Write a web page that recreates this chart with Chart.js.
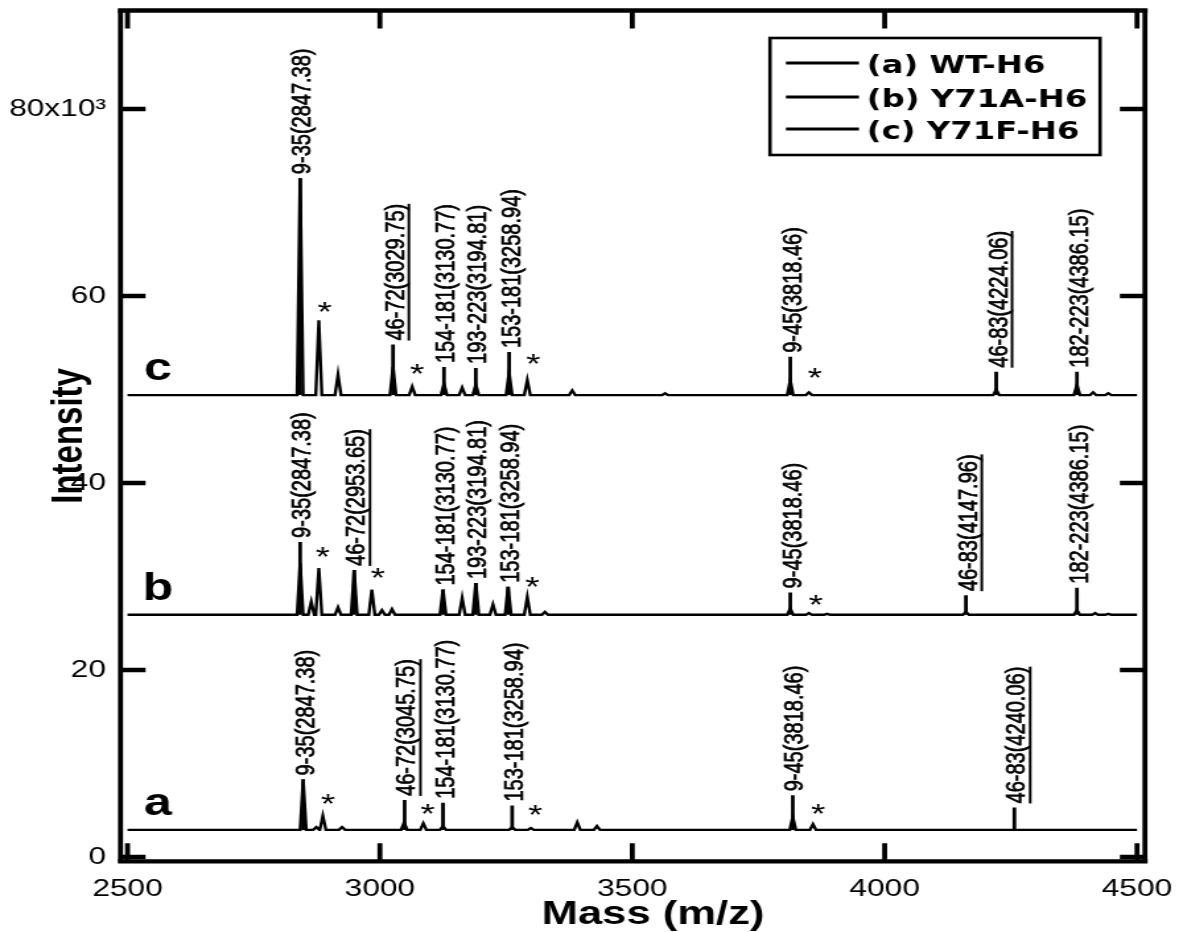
<!DOCTYPE html>
<html>
<head>
<meta charset="utf-8">
<script src="https://cdn.jsdelivr.net/npm/chart.js@4.4.1/dist/chart.umd.min.js"></script>
<style>
html,body{margin:0;padding:0;background:#fff;overflow:hidden;width:1179px;height:932px;}
#wrap{position:absolute;left:0;top:0;width:893px;height:932px;transform:scaleX(1.32027);transform-origin:0 0;}
canvas{display:block;}
</style>
</head>
<body>
<div id="wrap"><canvas id="chart" width="893" height="932" style="width:893px;height:932px"></canvas></div>
<script>
// ---------------- DATA (intensity in units of 10^3 counts) ----------------
const seriesNames = ['(a) WT-H6', '(b) Y71A-H6', '(c) Y71F-H6'];
const traceLetters = ['a', 'b', 'c'];
const baselineA = 2.9, baselineB = 25.9, baselineC = 49.4;
const massStart = 2500, massEnd = 4500;

const xTickValues = [2500, 3000, 3500, 4000, 4500];
const yTickValues = [0, 20, 40, 60, 80];
const yTickLabels = ['0', '20', '40', '60', '80x10\u00B3'];

// spectrum peaks (mass, apex intensity)
const peakMassA = [2848, 2874, 2887, 2925, 3048, 3086, 3125, 3262, 3299, 3391, 3430, 3818, 3858];
const peakIntA  = [8.3, 3.2, 4.4, 3.2, 3.7, 3.6, 3.3, 3.2, 3.1, 3.7, 3.3, 4.3, 3.5];

const peakMassB = [2842, 2864, 2879, 2917, 2949, 2984, 3004, 3024, 3125, 3163, 3190, 3224, 3254, 3292, 3327, 3813, 3850, 3886, 4161, 4381, 4417, 4443];
const peakIntB  = [31.4, 27.3, 30.9, 26.7, 30.7, 28.6, 26.4, 26.5, 28.6, 27.7, 29.3, 27.0, 28.9, 27.8, 26.2, 26.6, 26.1, 26.0, 26.2, 26.4, 26.1, 26.0];

const peakMassC = [2842, 2879, 2917, 3026, 3064, 3127, 3163, 3190, 3256, 3292, 3381, 3565, 3813, 3850, 4221, 4381, 4413, 4443];
const peakIntC  = [72.6, 57.4, 51.6, 52.4, 50.3, 50.6, 50.2, 50.5, 51.8, 51.0, 49.9, 49.6, 51.0, 49.7, 50.0, 50.5, 49.7, 49.6];

// assigned fragments: label text, mass of marker stick, top of marker stick, underlined
const labelTextA = ['9-35(2847.38)', '46-72(3045.75)', '154-181(3130.77)', '153-181(3258.94)', '9-45(3818.46)', '46-83(4240.06)'];
const labelMassA = [2848, 3049, 3125, 3262, 3818, 4257];
const labelIntA  = [8.3, 6.1, 5.8, 5.5, 6.6, 5.3];
const underlineA = [false, true, false, false, false, true];

const labelTextB = ['9-35(2847.38)', '46-72(2953.65)', '154-181(3130.77)', '193-223(3194.81)', '153-181(3258.94)', '9-45(3818.46)', '46-83(4147.96)', '182-223(4386.15)'];
const labelMassB = [2842, 2949, 3125, 3190, 3254, 3813, 4161, 4381];
const labelIntB  = [33.7, 30.7, 28.6, 29.3, 28.9, 28.3, 28.0, 28.8];
const underlineB = [false, true, false, false, false, false, true, false];

const labelTextC = ['9-35(2847.38)', '46-72(3029.75)', '154-181(3130.77)', '193-223(3194.81)', '153-181(3258.94)', '9-45(3818.46)', '46-83(4224.06)', '182-223(4386.15)'];
const labelMassC = [2842, 3026, 3127, 3190, 3256, 3813, 4221, 4381];
const labelIntC  = [72.6, 54.8, 52.4, 52.3, 54.0, 53.5, 51.9, 51.9];
const underlineC = [false, true, false, false, false, false, true, false];

// asterisk marks (mass, intensity of mark centre)
const starMassA = [2897, 3095, 3308, 3868];
const starIntA  = [6.4, 5.3, 5.2, 5.3];
const starMassB = [2887, 2996, 3302, 3864];
const starIntB  = [32.8, 30.5, 29.6, 27.7];
const starMassC = [2891, 3074, 3304, 3862];
const starIntC  = [59.0, 52.4, 53.4, 51.9];

// ---------------- BUILD ----------------
const HALF_W = 6;
function traceData(masses, ints, base) {
  const pts = [{x: massStart, y: base}];
  masses.forEach((m, i) => {
    pts.push({x: m - HALF_W, y: base}, {x: m, y: ints[i]}, {x: m + HALF_W, y: base});
  });
  pts.push({x: massEnd, y: base});
  return pts;
}
function stickData(masses, ints, base) {
  const pts = [];
  masses.forEach((m, i) => { pts.push({x: m, y: base}, {x: m, y: ints[i]}, {x: m, y: null}); });
  return pts;
}

const traces = [
  {base: baselineA, pm: peakMassA, pi: peakIntA, lt: labelTextA, lm: labelMassA, li: labelIntA, ul: underlineA, sm: starMassA, si: starIntA},
  {base: baselineB, pm: peakMassB, pi: peakIntB, lt: labelTextB, lm: labelMassB, li: labelIntB, ul: underlineB, sm: starMassB, si: starIntB},
  {base: baselineC, pm: peakMassC, pi: peakIntC, lt: labelTextC, lm: labelMassC, li: labelIntC, ul: underlineC, sm: starMassC, si: starIntC}
];

const datasets = [];
traces.forEach((t, k) => {
  datasets.push({label: seriesNames[k], data: traceData(t.pm, t.pi, t.base), borderColor: '#000', borderWidth: 2.4, pointRadius: 0, tension: 0, fill: false});
});
traces.forEach((t, k) => {
  datasets.push({label: seriesNames[k] + ' markers', data: stickData(t.lm, t.li, t.base), borderColor: '#000', borderWidth: 2.8, pointRadius: 0, tension: 0, fill: false, spanGaps: false});
});

const FONT = '"Liberation Sans", Arial, Helvetica, sans-serif';

const annot = {
  id: 'annot',
  afterDatasetsDraw(chart) {
    const {ctx, scales: {x, y}} = chart;
    ctx.save();
    ctx.fillStyle = '#000';
    ctx.strokeStyle = '#000';
    traces.forEach((t, k) => {
      // fragment labels
      ctx.font = '20px ' + FONT;
      t.lt.forEach((txt, i) => {
        const px = x.getPixelForValue(t.lm[i]);
        const py = y.getPixelForValue(t.li[i]) - 4;
        ctx.save();
        ctx.translate(px + 8, py);
        ctx.rotate(-Math.PI / 2);
        ctx.textAlign = 'left';
        ctx.textBaseline = 'alphabetic';
        ctx.lineWidth = 0.6;
        ctx.fillText(txt, 0, 0);
        ctx.strokeText(txt, 0, 0);
        if (t.ul[i]) {
          const w = ctx.measureText(txt).width;
          ctx.lineWidth = 2;
          ctx.beginPath(); ctx.moveTo(0, 4); ctx.lineTo(w, 4); ctx.stroke();
        }
        ctx.restore();
      });
      // asterisks
      ctx.font = '28px ' + FONT;
      ctx.textAlign = 'center';
      ctx.textBaseline = 'alphabetic';
      t.sm.forEach((m, i) => {
        ctx.fillText('*', x.getPixelForValue(m), y.getPixelForValue(t.si[i]) + 0.56 * 28);
      });
      // trace letters
      ctx.font = 'bold 38px ' + FONT;
      ctx.fillText(traceLetters[k], x.getPixelForValue(2560), y.getPixelForValue(t.base + 1.6));
    });
    ctx.restore();
  },
  afterDraw(chart) {
    const {ctx, chartArea: a, scales: {x, y}} = chart;
    ctx.save();
    ctx.strokeStyle = '#000';
    ctx.fillStyle = '#000';
    ctx.lineCap = 'butt';
    // ticks (inward, mirrored)
    ctx.lineWidth = 3.8;
    xTickValues.forEach(v => {
      const X = x.getPixelForValue(v);
      ctx.beginPath();
      ctx.moveTo(X, a.bottom); ctx.lineTo(X, a.bottom - 18);
      ctx.moveTo(X, a.top); ctx.lineTo(X, a.top + 18);
      ctx.stroke();
    });
    ctx.lineWidth = 4.5;
    yTickValues.forEach(v => {
      const Y = y.getPixelForValue(v);
      ctx.beginPath();
      ctx.moveTo(a.left, Y); ctx.lineTo(a.left + 19, Y);
      ctx.moveTo(a.right, Y); ctx.lineTo(a.right - 19, Y);
      ctx.stroke();
    });
    // frame
    ctx.lineWidth = 4.3;
    ctx.beginPath();
    ctx.moveTo(a.left - 2, a.top); ctx.lineTo(a.right + 2, a.top);
    ctx.moveTo(a.left - 2, a.bottom); ctx.lineTo(a.right + 2, a.bottom);
    ctx.stroke();
    ctx.lineWidth = 3.8;
    ctx.beginPath();
    ctx.moveTo(a.left, a.top); ctx.lineTo(a.left, a.bottom);
    ctx.moveTo(a.right, a.top); ctx.lineTo(a.right, a.bottom);
    ctx.stroke();
    // x-axis title
    ctx.font = 'bold 33px ' + FONT;
    ctx.textAlign = 'center';
    ctx.textBaseline = 'alphabetic';
    ctx.fillText('Mass (m/z)', (a.left + a.right) / 2 + 15.3, 924);
    // legend
    const bx = 583.2, by = 38, bw = 250, bh = 117;
    ctx.lineWidth = 2.6;
    ctx.strokeRect(bx, by, bw, bh);
    const rows = [63, 97, 129];
    ctx.font = 'bold 24.5px "DejaVu Sans", ' + FONT;
    ctx.textAlign = 'left';
    seriesNames.forEach((name, i) => {
      ctx.lineWidth = 3;
      ctx.beginPath(); ctx.moveTo(595.3, rows[i]); ctx.lineTo(650.6, rows[i]); ctx.stroke();
      ctx.fillText(name, 656.5, rows[i] + 9.5);
    });
    ctx.restore();
  }
};

new Chart(document.getElementById('chart'), {
  type: 'line',
  data: {datasets},
  options: {
    responsive: false,
    animation: false,
    events: [],
    layout: {padding: {top: 10.5, right: 25.8, left: 0, bottom: 0}},
    plugins: {legend: {display: false}, tooltip: {enabled: false}},
    elements: {point: {radius: 0}, line: {tension: 0}},
    scales: {
      x: {
        type: 'linear', min: 2486.1, max: 4515.7,
        grid: {display: false, drawTicks: false},
        border: {display: false},
        afterBuildTicks: s => { s.ticks = xTickValues.map(v => ({value: v})); },
        afterFit: s => { s.height = 70.7; s.paddingLeft = 0; s.paddingRight = 0; },
        ticks: {color: '#000', font: {family: FONT, size: 24}, padding: 14, maxRotation: 0, autoSkip: false,
                callback: v => String(v)},
        title: {display: false}
      },
      y: {
        type: 'linear', min: -0.46, max: 90.53,
        grid: {display: false, drawTicks: false},
        border: {display: false},
        afterBuildTicks: s => { s.ticks = yTickValues.map(v => ({value: v})); },
        afterFit: s => { s.width = 91.27; s.paddingTop = 0; s.paddingBottom = 0; },
        ticks: {color: '#000', font: {family: FONT, size: 24}, padding: 11, autoSkip: false,
                callback: v => yTickLabels[yTickValues.indexOf(v)]},
        title: {display: true, text: 'Intensity', color: '#000', font: {family: FONT, size: 33, weight: 'bold'}, padding: {top: 33, bottom: 0}}
      }
    }
  },
  plugins: [annot]
});
</script>
</body>
</html>
